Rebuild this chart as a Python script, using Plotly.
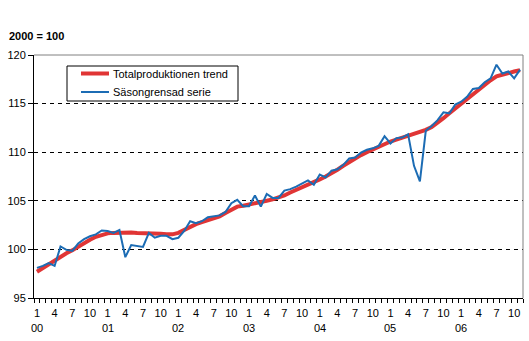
import plotly.graph_objects as go

# Monthly index values, January 2000 - November 2006 (2000 = 100)
trend = [
    97.7, 98.1, 98.5, 98.9, 99.3, 99.6, 99.9, 100.3, 100.7, 101.0, 101.3, 101.5,
    101.65, 101.7, 101.75, 101.75, 101.75, 101.7, 101.7, 101.65, 101.6, 101.6, 101.55, 101.55,
    101.7, 102.0, 102.35, 102.6, 102.8, 103.0, 103.2, 103.4, 103.75, 104.1, 104.4, 104.5,
    104.6, 104.7, 104.85, 105.0, 105.15, 105.3, 105.55, 105.85, 106.1, 106.4, 106.65, 106.9,
    107.2, 107.5, 107.8, 108.2, 108.6, 109.0, 109.35, 109.7, 110.0, 110.3, 110.6, 110.85,
    111.1, 111.3, 111.5, 111.65, 111.85, 112.05, 112.3, 112.6, 113.0, 113.5, 114.0, 114.5,
    115.0, 115.5, 116.0, 116.5, 117.0, 117.4, 117.8, 118.0, 118.15, 118.3, 118.45,
]

sasongrensad = [
    98.1, 98.3, 98.6, 98.3, 100.3, 99.95, 99.85, 100.6, 101.05, 101.35, 101.55, 101.95,
    101.9, 101.7, 102.0, 99.2, 100.45, 100.35, 100.25, 101.7, 101.2, 101.4, 101.4, 101.05,
    101.2, 101.9, 102.9, 102.7, 102.9, 103.3, 103.4, 103.5, 103.85, 104.75, 105.1, 104.45,
    104.45, 105.55, 104.4, 105.7, 105.3, 105.3, 106.05, 106.2, 106.45, 106.8, 107.1, 106.65,
    107.7, 107.4, 108.1, 108.25, 108.7, 109.35, 109.45, 109.95, 110.25, 110.4, 110.65, 111.65,
    110.9, 111.45, 111.5, 111.85, 108.6, 107.0, 112.2, 112.7, 113.3, 114.1, 114.0, 114.9,
    115.2, 115.7, 116.5, 116.6, 117.2, 117.6, 119.0, 118.1, 118.3, 117.6, 118.5,
]

years = ["00", "01", "02", "03", "04", "05", "06"]
y_ticks = [95, 100, 105, 110, 115, 120]
series_names = ["Totalproduktionen trend", "Säsongrensad serie"]
series_colors = ["#E03535", "#1C6CB4"]
series_widths = [4, 2]

FONT = "Arial, Liberation Sans, sans-serif"

# Plot-area geometry in pixels (used to place the legend box and labels)
W, H = 529, 341
L, R, T, B = 34, 6, 55, 43
PW, PH = W - L - R, H - T - B


def px(xp):
    return (xp - L) / PW


def py(yp):
    return (H - B - yp) / PH


n = len(trend)
x = list(range(n))

# Quarterly month labels
tickvals = list(range(0, n, 3))
ticktext = [str(k % 12 + 1) for k in tickvals]

fig = go.Figure()
for vals, name, col, w in zip([trend, sasongrensad], series_names,
                              series_colors, series_widths):
    fig.add_trace(go.Scatter(x=x, y=vals, mode="lines", name=name,
                             line=dict(color=col, width=w)))

annotations = [dict(
    text="<b>2000 = 100</b>", xref="paper", yref="paper",
    x=px(7), y=py(36), xanchor="left", yanchor="middle",
    showarrow=False, font=dict(family=FONT, size=11, color="black"),
)]
# Year under each January
for j, yr in enumerate(years):
    annotations.append(dict(
        text=yr, xref="x", yref="paper", x=12 * j, y=py(328),
        xanchor="center", yanchor="middle", showarrow=False,
        font=dict(family=FONT, size=11, color="black"),
    ))

shapes = [
    dict(type="line", xref="paper", yref="paper", x0=0, x1=1, y0=1, y1=1,
         line=dict(color="#808080", width=1), layer="above"),
    dict(type="line", xref="paper", yref="paper", x0=1, x1=1, y0=0, y1=1,
         line=dict(color="#808080", width=1), layer="above"),
    # legend frame
    dict(type="rect", xref="paper", yref="paper",
         x0=px(67), x1=px(238), y0=py(101), y1=py(66),
         line=dict(color="black", width=1), fillcolor="white", layer="above"),
]
for k, (name, col, w) in enumerate(zip(series_names, series_colors, series_widths)):
    yrow = 73.5 + k * 18.5
    shapes.append(dict(type="line", xref="paper", yref="paper",
                       x0=px(81), x1=px(109), y0=py(yrow), y1=py(yrow),
                       line=dict(color=col, width=w), layer="above"))
    annotations.append(dict(
        text=name, xref="paper", yref="paper", x=px(111), y=py(yrow),
        xanchor="left", yanchor="middle", showarrow=False,
        font=dict(family=FONT, size=11, color="black"),
    ))

fig.update_layout(
    width=W, height=H,
    margin=dict(l=L, r=R, t=T, b=B),
    paper_bgcolor="white", plot_bgcolor="white",
    font=dict(family=FONT, size=11, color="black"),
    showlegend=False,
    xaxis=dict(
        range=[-0.5, n - 0.5],
        tickmode="array", tickvals=tickvals, ticktext=ticktext,
        ticks="", ticklabelstandoff=5, showgrid=False, zeroline=False,
        showline=True, linecolor="black", linewidth=1,
        tickfont=dict(family=FONT, size=11),
        minor=dict(tickmode="linear", tick0=-0.5, dtick=1, ticks="outside",
                   ticklen=4, tickcolor="black", showgrid=False),
    ),
    yaxis=dict(
        range=[95, 120], tickmode="array", tickvals=y_ticks,
        ticks="outside", ticklen=5, tickcolor="black",
        showgrid=True, gridcolor="black", gridwidth=1, griddash="4px,4px",
        zeroline=False, showline=True, linecolor="black", linewidth=1,
        tickfont=dict(family=FONT, size=11),
    ),
    annotations=annotations,
    shapes=shapes,
)

fig.write_html("out.html")
